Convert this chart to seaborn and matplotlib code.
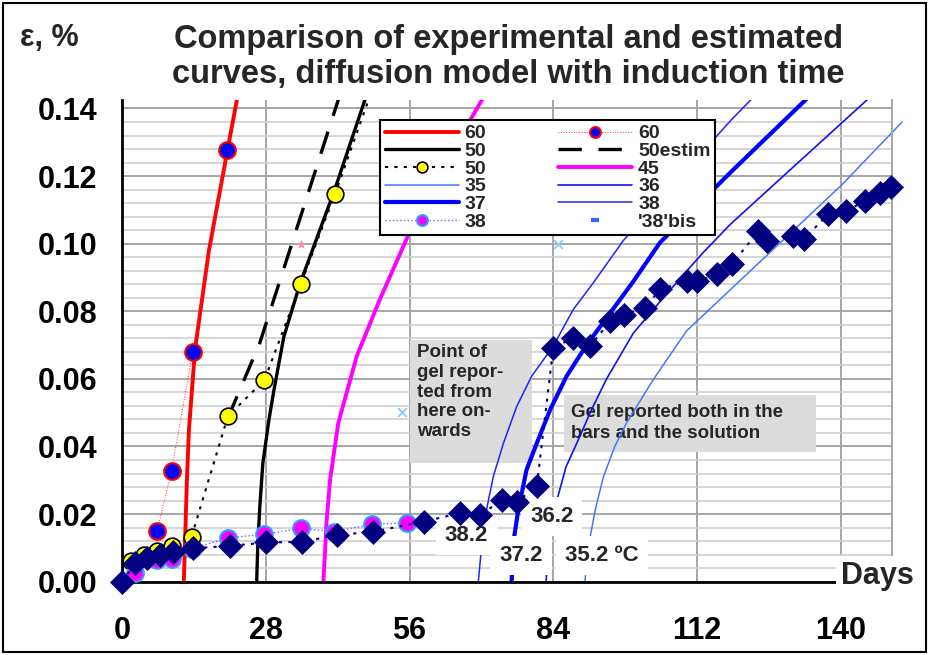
import numpy as np
import seaborn as sns
import matplotlib.pyplot as plt
from matplotlib.patches import Rectangle

# days / strain (%)
x_60 = [12.0, 12.3, 12.6, 13.0, 14.2, 16.9, 20.5, 22.4]
y_60 = [0.0, 0.015, 0.030, 0.045, 0.069, 0.098, 0.1276, 0.1430]
x_60_exp = [6.8, 9.6, 13.7, 20.5]
y_60_exp = [0.0150, 0.0328, 0.0679, 0.1276]

x_50 = [26.2, 26.4, 26.8, 27.4, 28.6, 29.6, 31.5, 34.7, 41.3, 47.4]
y_50 = [0.0, 0.010, 0.022, 0.035, 0.048, 0.057, 0.0725, 0.0884, 0.1155, 0.1430]
x_50_estim = [20.6, 26.8, 34.5, 42.2]
y_50_estim = [0.0485, 0.0706, 0.1068, 0.1430]
x_50_exp = [1.8, 4.3, 6.7, 9.6, 13.5, 20.6, 27.7, 34.8, 41.5, 50.7]
y_50_exp = [0.0060, 0.0078, 0.0092, 0.0105, 0.0133, 0.0490, 0.0596, 0.0881, 0.1148, 0.1540]

x_45 = [39.2, 39.5, 39.8, 40.5, 42.1, 45.7, 50.2, 55.4, 59.3, 64.5, 70.3]
y_45 = [0.0, 0.008, 0.0173, 0.0301, 0.0469, 0.0667, 0.0835, 0.1013, 0.116, 0.128, 0.1430]

x_35 = [90.2, 90.5, 91.2, 92.3, 93.8, 96.0, 98.3, 103.5, 110.0, 140.3, 152.0]
y_35 = [0.0, 0.007, 0.0133, 0.022, 0.0311, 0.040, 0.047, 0.0598, 0.0742, 0.1175, 0.1360]
x_36 = [82.6, 83.0, 83.8, 84.7, 86.5, 88.6, 91.5, 94.4, 99.6, 106.0, 113.0, 118.5, 145.5]
y_36 = [0.0, 0.008, 0.017, 0.024, 0.034, 0.041, 0.051, 0.060, 0.0735, 0.085, 0.097, 0.1057, 0.1430]
x_37 = [75.9, 76.2, 77.2, 78.8, 80.8, 83.4, 86.6, 90.5, 95.1, 99.6, 104.8, 118.5, 133.5]
y_37 = [0.0, 0.0114, 0.0213, 0.0331, 0.041, 0.0509, 0.0608, 0.0700, 0.0795, 0.0888, 0.1003, 0.121, 0.1430]
x_38 = [69.4, 70.1, 71.0, 72.3, 74.3, 76.9, 79.8, 84.0, 87.9, 91.8, 97.7, 118.5, 122.8]
y_38 = [0.0, 0.0114, 0.0213, 0.031, 0.041, 0.0519, 0.0608, 0.0697, 0.0805, 0.0884, 0.101, 0.1363, 0.1430]

x_38_exp = [2.5, 6.7, 9.6, 13.5, 20.7, 27.7, 34.8, 41.3, 48.6, 55.5]
y_38_exp = [0.0025, 0.0064, 0.0066, 0.0097, 0.0130, 0.0140, 0.0158, 0.0148, 0.0170, 0.0174]

x_bars = [0, 2.5, 4.8, 7.3, 9.9, 13.8, 21.0, 28.1, 35.1, 41.8,
          48.9, 58.9, 65.8, 69.7, 74.0, 76.9, 80.8, 84.0, 87.9, 91.2,
          95.1, 97.7, 101.9, 104.8, 110.0, 112.0, 115.9, 118.8, 124.0, 125.6,
          130.8, 132.8, 137.6, 141.0, 144.8, 147.7, 149.9]
y_bars = [0, 0.0055, 0.0069, 0.0079, 0.0089, 0.0099, 0.0106, 0.0116, 0.0118, 0.0138,
          0.0148, 0.0178, 0.0203, 0.0196, 0.0242, 0.0237, 0.0282, 0.0692, 0.0721, 0.0697,
          0.0771, 0.0790, 0.0810, 0.0865, 0.0889, 0.0889, 0.0909, 0.0939, 0.1037, 0.1008,
          0.1023, 0.1013, 0.1087, 0.1097, 0.1126, 0.1151, 0.1168]

# stray markers
x_star, y_star = [34.8], [0.100]
x_cross, y_cross = [54.5, 85.0], [0.0501, 0.100]

x_ticks = [0, 28, 56, 84, 112, 140]
y_ticks = [0.00, 0.02, 0.04, 0.06, 0.08, 0.10, 0.12, 0.14]

sns.set_theme(style='white')
plt.rcParams['font.family'] = ['Liberation Sans', 'DejaVu Sans']
plt.rcParams['font.weight'] = 'bold'

fig = plt.figure(figsize=(9.29, 6.55), dpi=100)
ax = fig.add_axes([0.1316, 0.1119, 0.8284, 0.7354])


def draw(x, y, **kw):
    sns.lineplot(x=x, y=y, ax=ax, sort=False, estimator=None, **kw)
    return ax.lines[-1]


h_60 = draw(x_60, y_60, color='#ff0000', linewidth=2.8, zorder=2)
h_60e = draw(x_60_exp, y_60_exp, color='#ff3333', linewidth=0.7, linestyle=':',
             marker='o', markersize=12, markerfacecolor='#0000ff',
             markeredgecolor='#ff0000', markeredgewidth=1.5, zorder=3)
h_50 = draw(x_50, y_50, color='black', linewidth=2.4, zorder=2)
h_50est = draw(x_50_estim, y_50_estim, color='black', linewidth=2.4,
               linestyle=(0, (7, 5)), zorder=2)
h_50e = draw(x_50_exp, y_50_exp, color='black', linewidth=1.5, linestyle=(0, (1.5, 3)),
             marker='o', markersize=12, markerfacecolor='#ffff00',
             markeredgecolor='black', markeredgewidth=1.2, zorder=3)
h_45 = draw(x_45, y_45, color='#ff00ff', linewidth=2.8, zorder=2)
h_35 = draw(x_35, y_35, color='#4477ff', linewidth=1.1, zorder=2, clip_on=False)
h_36 = draw(x_36, y_36, color='#1111ee', linewidth=1.2, zorder=2)
h_37 = draw(x_37, y_37, color='#0000ff', linewidth=3.0, zorder=2)
h_38 = draw(x_38, y_38, color='#2222ff', linewidth=1.1, zorder=2)
h_38e = draw(x_38_exp, y_38_exp, color='#6666ff', linewidth=1.0, linestyle=':',
             marker='o', markersize=12, markerfacecolor='#ff00ff',
             markeredgecolor='#3399ff', markeredgewidth=1.5, zorder=3.5)
h_bis = draw(x_bars, y_bars, color='#3366ff', linestyle='', marker='_',
             markersize=8, markeredgewidth=3, markeredgecolor='#3366ff', zorder=3.8,
             clip_on=False)
draw(x_bars, y_bars, color='#000080', linewidth=1.5, linestyle=(0, (1.5, 3)),
     marker='D', markersize=12.5, markerfacecolor='#000080',
     markeredgecolor='#000080', markeredgewidth=0.5, zorder=4, clip_on=False)
sns.scatterplot(x=x_star, y=y_star, ax=ax, marker='*', s=60, color='#ff88bb',
                linewidth=0, zorder=3)
sns.scatterplot(x=x_cross, y=y_cross, ax=ax, marker='x', s=40, color='#88ccff',
                linewidth=1.3, zorder=3)

ax.set_xlim(0, 150)
ax.set_ylim(0, 0.1425)
ax.set_xticks(x_ticks)
ax.set_xticklabels([str(t) for t in x_ticks])
ax.set_yticks(y_ticks)
ax.set_yticklabels([f'{t:.2f}' for t in y_ticks])
ax.set_yticks(np.arange(0, 0.1425, 0.004), minor=True)
ax.set_xlabel('')
ax.set_ylabel('')
ax.set_axisbelow(True)
ax.grid(which='major', axis='both', color='#a6a6a6', linewidth=1.4)
ax.grid(which='minor', axis='y', color='#cfcfcf', linewidth=1.2)
ax.tick_params(axis='both', which='major', direction='out', length=8, width=1.5,
               labelsize=22, colors='black')
ax.tick_params(axis='x', pad=17)
ax.tick_params(axis='y', pad=10)
ax.tick_params(which='minor', length=0)
ax.spines['top'].set_visible(False)
ax.spines['right'].set_color('#a6a6a6')
ax.spines['right'].set_linewidth(1.4)
for s in ('left', 'bottom'):
    ax.spines[s].set_color('black')
    ax.spines[s].set_linewidth(2)

# grey annotation boxes
ax.add_patch(Rectangle((56.1, 0.0352), 23.8, 0.0364, facecolor='#dcdcdc',
                       edgecolor='none', zorder=1))
ax.add_patch(Rectangle((86.1, 0.0385), 49.1, 0.0168, facecolor='#dcdcdc',
                       edgecolor='none', zorder=1))
ax.text(57.4, 0.0702, 'Point of\ngel repor-\nted from\nhere on-\nwards', fontsize=13.5,
        ha='left', va='top', linespacing=1.2, zorder=1.2)
ax.text(87.5, 0.0470, 'Gel reported both in the\nbars and the solution', fontsize=13.5,
        ha='left', va='center', linespacing=1.3, zorder=1.2)

white_box = dict(boxstyle='square,pad=0.4', facecolor='white', edgecolor='none')
ax.text(67.1, 0.0136, '38.2', fontsize=16, ha='center', va='center', bbox=white_box, zorder=3.2)
ax.text(83.7, 0.0192, '36.2', fontsize=16, ha='center', va='center', bbox=white_box, zorder=3.2)
ax.text(77.7, 0.0077, '37.2', fontsize=16, ha='center', va='center', bbox=white_box, zorder=3.2)
ax.text(93.5, 0.0077, '35.2 ºC', fontsize=16, ha='center', va='center', bbox=white_box, zorder=3.2)
ax.text(147.1, 0.0017, 'Days', fontsize=22, ha='center', va='center', clip_on=False,
        bbox=dict(boxstyle='square,pad=0.15', facecolor='white', edgecolor='none'), zorder=5)

handles = [h_60, h_50, h_50e, h_35, h_37, h_38e, h_60e, h_50est, h_45, h_36, h_38, h_bis]
labels = ['60', '50', '50', '35', '37', '38', '60', '50estim', '45', '36', '38', "'38'bis"]
leg = ax.legend(handles, labels, ncol=2, loc='upper left', bbox_to_anchor=(0.335, 0.9585),
                borderaxespad=0, frameon=True, fancybox=False, framealpha=1,
                edgecolor='black', fontsize=14, handlelength=3.8, handletextpad=0.3,
                columnspacing=3.7, labelspacing=0.0, borderpad=0.25, numpoints=1,
                markerscale=0.65)
leg.get_frame().set_linewidth(1.5)
leg.set_zorder(10)

fig.text(0.022, 0.942, 'ε, %', fontsize=22, ha='left', va='center')
fig.text(0.547, 0.913, 'Comparison of experimental and estimated\n'
         'curves, diffusion model with induction time',
         fontsize=23.5, ha='center', va='center', linespacing=1.15)
fig.patches.append(Rectangle((0.003, 0.004), 0.994, 0.992, transform=fig.transFigure,
                             fill=False, edgecolor='black', linewidth=1.5))

fig.savefig('out.png', dpi=100)
